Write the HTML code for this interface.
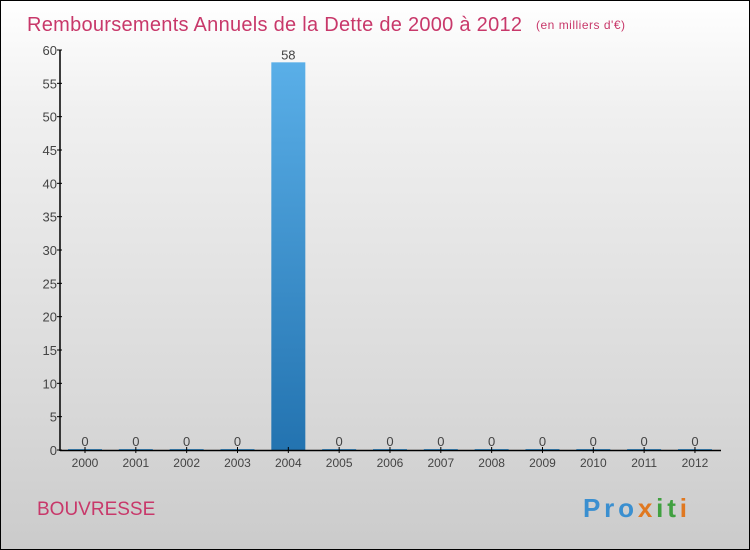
<!DOCTYPE html>
<html><head><meta charset="utf-8"><style>
body{margin:0}
#c{width:748px;height:548px;border:1px solid #000;background:linear-gradient(#fff,#f0f0f0 20%,#d8d8d8 75%,#cbcbcb);position:relative;font-family:"Liberation Sans",sans-serif;overflow:hidden}
</style></head><body>
<div id="c">
<svg width="748" height="548" style="position:absolute;left:0;top:0" id="svg">
<defs><linearGradient id="bg" x1="0" y1="0" x2="0" y2="1"><stop offset="0" stop-color="#5aafe8"/><stop offset="1" stop-color="#2373b0"/></linearGradient></defs>
<text x="26" y="30" font-size="20" textLength="495" fill="#c8386a">Remboursements Annuels de la Dette de 2000 à 2012</text>
<text x="535" y="28" font-size="12" textLength="89" fill="#c8386a">(en milliers d'€)</text>
<text x="36" y="514" font-size="19" fill="#c8386a">BOUVRESSE</text>
<text x="582" y="516" font-size="26" font-weight="bold" textLength="104"><tspan fill="#3a8fd0">Pro</tspan><tspan fill="#e07820">x</tspan><tspan fill="#40a040">it</tspan><tspan fill="#e07820">i</tspan></text>
<g id="plot"></g>
</svg>
</div>
<script>
const categories=["2000","2001","2002","2003","2004","2005","2006","2007","2008","2009","2010","2011","2012"];
const values=[0,0,0,0,58,0,0,0,0,0,0,0,0];
const yTicks=[0,5,10,15,20,25,30,35,40,45,50,55,60];
const NS="http://www.w3.org/2000/svg";
const g=document.getElementById('plot');
const y0=449,yTop=49,yMax=60,x0=59,x1=720;
const y=v=>y0-(v/yMax)*(y0-yTop);
const step=50.83,xc=i=>84+i*step,bw=34;
function mk(t,a,txt){const e=document.createElementNS(NS,t);for(const k in a)e.setAttribute(k,a[k]);if(txt!==undefined)e.textContent=txt;g.appendChild(e);return e;}
let e;
categories.forEach((c,i)=>{
 const v=values[i],top=y(v);
 e=mk('rect',{x:xc(i)-bw/2,y:top-1,width:bw,height:Math.max(y0-top,0)+1,fill:'url(#bg)'});
 
});
e=mk('line',{x1:x0,y1:yTop,x2:x0,y2:y0+1,stroke:'#000','stroke-width':1.5});

e=mk('line',{x1:x0,y1:y0+0.5,x2:x1,y2:y0+0.5,stroke:'#000','stroke-width':1.5});

yTicks.forEach(t=>{
 e=mk('line',{x1:x0-3,y1:y(t),x2:x0+2,y2:y(t),stroke:'#000'});
 
 e=mk('text',{x:x0-3,y:y(t)+5,'font-size':13,fill:'#444','text-anchor':'end'},t);
 
});
categories.forEach((c,i)=>{
 const v=values[i],top=y(v);
 e=mk('line',{x1:xc(i),y1:y0-3,x2:xc(i),y2:y0+3,stroke:'#000'});
 
 e=mk('text',{x:xc(i),y:top-4,'font-size':13,fill:'#444','text-anchor':'middle'},String(v));
 
 e=mk('text',{x:xc(i),y:466,'font-size':12,fill:'#444','text-anchor':'middle'},c);
 
});
</script>
</body></html>
